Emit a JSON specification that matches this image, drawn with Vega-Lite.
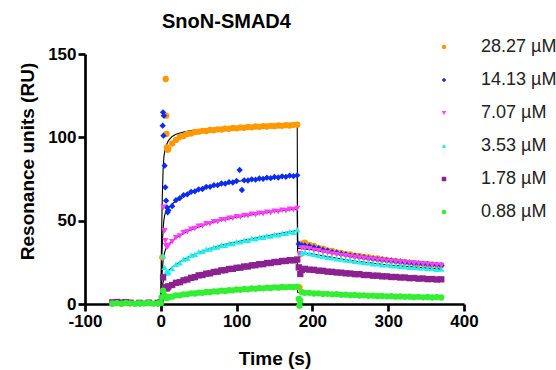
{
"$schema":"https://vega.github.io/schema/vega-lite/v6.json",
"width":379,"height":250,
"autosize":{"type":"none"},
"padding":{"left":85,"top":54,"right":92,"bottom":66},
"background":"white",
"config":{"view":{"stroke":null},"font":"Liberation Sans",
"axis":{"domainColor":"black","domainWidth":2.7,"tickColor":"black","tickWidth":2.7,"tickSize":7,"labelFont":"Liberation Sans","labelFontSize":17,"labelFontWeight":"bold","labelColor":"black","titleFont":"Liberation Sans","titleFontSize":19,"titleFontWeight":"bold","titleColor":"black","grid":false,"labelPadding":2,"labelFlush":false}},
"title":{"text":"SnoN-SMAD4","anchor":"start","frame":"group","dx":77,"dy":24,"fontSize":20,"fontWeight":"bold","font":"Liberation Sans","color":"black","offset":14,"baseline":"alphabetic"},
"datasets":{
"fit":[
{"conc":"28.27 µM","time":0,"ru":0},{"conc":"28.27 µM","time":1,"ru":40},{"conc":"28.27 µM","time":2,"ru":65},{"conc":"28.27 µM","time":3,"ru":80},{"conc":"28.27 µM","time":4,"ru":88},{"conc":"28.27 µM","time":6,"ru":94},{"conc":"28.27 µM","time":10,"ru":98},{"conc":"28.27 µM","time":15,"ru":100.5},{"conc":"28.27 µM","time":20,"ru":101.8},{"conc":"28.27 µM","time":30,"ru":103.2},{"conc":"28.27 µM","time":40,"ru":104},{"conc":"28.27 µM","time":60,"ru":104.8},{"conc":"28.27 µM","time":80,"ru":105.4},{"conc":"28.27 µM","time":100,"ru":105.9},{"conc":"28.27 µM","time":120,"ru":106.3},{"conc":"28.27 µM","time":150,"ru":106.8},{"conc":"28.27 µM","time":180,"ru":107.3},{"conc":"28.27 µM","time":180.5,"ru":35.5},{"conc":"28.27 µM","time":190,"ru":35.2},{"conc":"28.27 µM","time":200,"ru":34.2},{"conc":"28.27 µM","time":220,"ru":32.1},{"conc":"28.27 µM","time":250,"ru":29.5},{"conc":"28.27 µM","time":280,"ru":27.5},{"conc":"28.27 µM","time":300,"ru":26.2},{"conc":"28.27 µM","time":340,"ru":24.2},{"conc":"28.27 µM","time":370,"ru":23.1},
{"conc":"14.13 µM","time":0,"ru":0},{"conc":"14.13 µM","time":1,"ru":22},{"conc":"14.13 µM","time":2,"ru":36},{"conc":"14.13 µM","time":3,"ru":45},{"conc":"14.13 µM","time":4,"ru":50},{"conc":"14.13 µM","time":5,"ru":53},{"conc":"14.13 µM","time":7,"ru":56},{"conc":"14.13 µM","time":10,"ru":57.5},{"conc":"14.13 µM","time":15,"ru":60},{"conc":"14.13 µM","time":20,"ru":62},{"conc":"14.13 µM","time":30,"ru":65},{"conc":"14.13 µM","time":40,"ru":67},{"conc":"14.13 µM","time":60,"ru":70},{"conc":"14.13 µM","time":80,"ru":72},{"conc":"14.13 µM","time":100,"ru":73.5},{"conc":"14.13 µM","time":120,"ru":74.7},{"conc":"14.13 µM","time":150,"ru":76},{"conc":"14.13 µM","time":180,"ru":77},{"conc":"14.13 µM","time":180.5,"ru":35},{"conc":"14.13 µM","time":200,"ru":34},{"conc":"14.13 µM","time":250,"ru":29},{"conc":"14.13 µM","time":300,"ru":26},{"conc":"14.13 µM","time":370,"ru":23.2},
{"conc":"7.07 µM","time":0,"ru":0},{"conc":"7.07 µM","time":1,"ru":12},{"conc":"7.07 µM","time":2,"ru":20},{"conc":"7.07 µM","time":3,"ru":26},{"conc":"7.07 µM","time":5,"ru":31},{"conc":"7.07 µM","time":7,"ru":33.5},{"conc":"7.07 µM","time":10,"ru":35.5},{"conc":"7.07 µM","time":15,"ru":37.8},{"conc":"7.07 µM","time":20,"ru":39.6},{"conc":"7.07 µM","time":30,"ru":42.5},{"conc":"7.07 µM","time":40,"ru":44.6},{"conc":"7.07 µM","time":60,"ru":47.8},{"conc":"7.07 µM","time":80,"ru":50.2},{"conc":"7.07 µM","time":100,"ru":52},{"conc":"7.07 µM","time":120,"ru":53.6},{"conc":"7.07 µM","time":150,"ru":55.5},{"conc":"7.07 µM","time":180,"ru":57},{"conc":"7.07 µM","time":180.5,"ru":33.5},{"conc":"7.07 µM","time":200,"ru":32.6},{"conc":"7.07 µM","time":250,"ru":28.4},{"conc":"7.07 µM","time":300,"ru":25.7},{"conc":"7.07 µM","time":370,"ru":23.2},
{"conc":"3.53 µM","time":0,"ru":0},{"conc":"3.53 µM","time":1,"ru":6},{"conc":"3.53 µM","time":2,"ru":10},{"conc":"3.53 µM","time":3,"ru":13},{"conc":"3.53 µM","time":5,"ru":16.5},{"conc":"3.53 µM","time":7,"ru":18.5},{"conc":"3.53 µM","time":10,"ru":20},{"conc":"3.53 µM","time":15,"ru":22},{"conc":"3.53 µM","time":20,"ru":23.8},{"conc":"3.53 µM","time":30,"ru":26.7},{"conc":"3.53 µM","time":40,"ru":29},{"conc":"3.53 µM","time":60,"ru":32.6},{"conc":"3.53 µM","time":80,"ru":35.2},{"conc":"3.53 µM","time":100,"ru":37.3},{"conc":"3.53 µM","time":120,"ru":39.2},{"conc":"3.53 µM","time":150,"ru":41.7},{"conc":"3.53 µM","time":180,"ru":44.2},{"conc":"3.53 µM","time":180.5,"ru":31},{"conc":"3.53 µM","time":200,"ru":30},{"conc":"3.53 µM","time":250,"ru":26.1},{"conc":"3.53 µM","time":300,"ru":23.4},{"conc":"3.53 µM","time":370,"ru":20.9},
{"conc":"1.78 µM","time":0,"ru":0},{"conc":"1.78 µM","time":2,"ru":5},{"conc":"1.78 µM","time":4,"ru":7.5},{"conc":"1.78 µM","time":7,"ru":9.5},{"conc":"1.78 µM","time":10,"ru":10.5},{"conc":"1.78 µM","time":20,"ru":12.6},{"conc":"1.78 µM","time":40,"ru":15.6},{"conc":"1.78 µM","time":60,"ru":18},{"conc":"1.78 µM","time":80,"ru":20},{"conc":"1.78 µM","time":100,"ru":21.6},{"conc":"1.78 µM","time":120,"ru":23},{"conc":"1.78 µM","time":150,"ru":24.9},{"conc":"1.78 µM","time":180,"ru":26.6},{"conc":"1.78 µM","time":180.5,"ru":21},{"conc":"1.78 µM","time":200,"ru":20.4},{"conc":"1.78 µM","time":250,"ru":18.2},{"conc":"1.78 µM","time":300,"ru":16.5},{"conc":"1.78 µM","time":370,"ru":14.7},
{"conc":"0.88 µM","time":0,"ru":0},{"conc":"0.88 µM","time":2,"ru":2},{"conc":"0.88 µM","time":5,"ru":3.3},{"conc":"0.88 µM","time":10,"ru":4.1},{"conc":"0.88 µM","time":20,"ru":5},{"conc":"0.88 µM","time":40,"ru":6.2},{"conc":"0.88 µM","time":60,"ru":7},{"conc":"0.88 µM","time":80,"ru":7.8},{"conc":"0.88 µM","time":100,"ru":8.5},{"conc":"0.88 µM","time":120,"ru":9.1},{"conc":"0.88 µM","time":150,"ru":9.8},{"conc":"0.88 µM","time":180,"ru":10.2},{"conc":"0.88 µM","time":180.5,"ru":7},{"conc":"0.88 µM","time":200,"ru":6.4},{"conc":"0.88 µM","time":250,"ru":5.4},{"conc":"0.88 µM","time":300,"ru":4.6},{"conc":"0.88 µM","time":370,"ru":3.9}
],
"pts":[
{"conc":"28.27 µM","time":-64,"ru":0.3},{"conc":"28.27 µM","time":-52,"ru":0.2},{"conc":"28.27 µM","time":-40,"ru":0.4},{"conc":"28.27 µM","time":-28,"ru":0.5},{"conc":"28.27 µM","time":-16,"ru":0.6},{"conc":"28.27 µM","time":-4,"ru":0.4},
{"conc":"28.27 µM","time":0,"ru":0.8},{"conc":"28.27 µM","time":2,"ru":28},{"conc":"28.27 µM","time":6.5,"ru":135},{"conc":"28.27 µM","time":7,"ru":113},{"conc":"28.27 µM","time":7.5,"ru":102},{"conc":"28.27 µM","time":8,"ru":94},{"conc":"28.27 µM","time":9,"ru":92.5},{"conc":"28.27 µM","time":10,"ru":93},{"conc":"28.27 µM","time":15,"ru":96.3},{"conc":"28.27 µM","time":20,"ru":98.4},{"conc":"28.27 µM","time":25,"ru":100.2},{"conc":"28.27 µM","time":30,"ru":100.8},{"conc":"28.27 µM","time":35,"ru":102},{"conc":"28.27 µM","time":40,"ru":102.3},{"conc":"28.27 µM","time":45,"ru":103.2},{"conc":"28.27 µM","time":50,"ru":103.4},{"conc":"28.27 µM","time":55,"ru":103.9},{"conc":"28.27 µM","time":60,"ru":103.8},{"conc":"28.27 µM","time":65,"ru":104.4},{"conc":"28.27 µM","time":70,"ru":104.3},{"conc":"28.27 µM","time":75,"ru":104.8},{"conc":"28.27 µM","time":80,"ru":104.7},{"conc":"28.27 µM","time":85,"ru":105.2},{"conc":"28.27 µM","time":90,"ru":105.1},{"conc":"28.27 µM","time":95,"ru":105.6},{"conc":"28.27 µM","time":100,"ru":105.4},{"conc":"28.27 µM","time":105,"ru":105.9},{"conc":"28.27 µM","time":110,"ru":105.7},{"conc":"28.27 µM","time":115,"ru":106.2},{"conc":"28.27 µM","time":120,"ru":106},{"conc":"28.27 µM","time":125,"ru":106.5},{"conc":"28.27 µM","time":130,"ru":106.3},{"conc":"28.27 µM","time":135,"ru":106.7},{"conc":"28.27 µM","time":140,"ru":106.5},{"conc":"28.27 µM","time":145,"ru":106.9},{"conc":"28.27 µM","time":150,"ru":106.7},{"conc":"28.27 µM","time":155,"ru":107.1},{"conc":"28.27 µM","time":160,"ru":106.9},{"conc":"28.27 µM","time":165,"ru":107.3},{"conc":"28.27 µM","time":170,"ru":107.1},{"conc":"28.27 µM","time":175,"ru":107.5},{"conc":"28.27 µM","time":180,"ru":107.6},
{"conc":"28.27 µM","time":183,"ru":10},{"conc":"28.27 µM","time":184.5,"ru":30},
{"conc":"28.27 µM","time":186,"ru":36.2},{"conc":"28.27 µM","time":190,"ru":36.8},{"conc":"28.27 µM","time":196,"ru":35.4},{"conc":"28.27 µM","time":202,"ru":34.8},{"conc":"28.27 µM","time":208,"ru":33.6},{"conc":"28.27 µM","time":214,"ru":33.2},{"conc":"28.27 µM","time":220,"ru":32.1},{"conc":"28.27 µM","time":226,"ru":31.8},{"conc":"28.27 µM","time":232,"ru":30.9},{"conc":"28.27 µM","time":238,"ru":30.7},{"conc":"28.27 µM","time":244,"ru":29.9},{"conc":"28.27 µM","time":250,"ru":29.7},{"conc":"28.27 µM","time":256,"ru":29},{"conc":"28.27 µM","time":262,"ru":28.9},{"conc":"28.27 µM","time":268,"ru":28.2},{"conc":"28.27 µM","time":274,"ru":28.1},{"conc":"28.27 µM","time":280,"ru":27.4},{"conc":"28.27 µM","time":286,"ru":27.3},{"conc":"28.27 µM","time":292,"ru":26.6},{"conc":"28.27 µM","time":298,"ru":26.5},{"conc":"28.27 µM","time":304,"ru":25.9},{"conc":"28.27 µM","time":310,"ru":25.9},{"conc":"28.27 µM","time":316,"ru":25.3},{"conc":"28.27 µM","time":322,"ru":25.3},{"conc":"28.27 µM","time":328,"ru":24.7},{"conc":"28.27 µM","time":334,"ru":24.7},{"conc":"28.27 µM","time":340,"ru":24.1},{"conc":"28.27 µM","time":346,"ru":24.2},{"conc":"28.27 µM","time":352,"ru":23.6},{"conc":"28.27 µM","time":358,"ru":23.7},{"conc":"28.27 µM","time":364,"ru":23.2},{"conc":"28.27 µM","time":370,"ru":23.2},
{"conc":"14.13 µM","time":-64,"ru":0.4},{"conc":"14.13 µM","time":-52,"ru":0.3},{"conc":"14.13 µM","time":-40,"ru":0.5},{"conc":"14.13 µM","time":-28,"ru":0.3},{"conc":"14.13 µM","time":-16,"ru":0.5},{"conc":"14.13 µM","time":-4,"ru":0.3},
{"conc":"14.13 µM","time":0,"ru":0.5},{"conc":"14.13 µM","time":2.5,"ru":107},{"conc":"14.13 µM","time":3,"ru":115},{"conc":"14.13 µM","time":3.5,"ru":101},{"conc":"14.13 µM","time":4,"ru":113},{"conc":"14.13 µM","time":5,"ru":83},{"conc":"14.13 µM","time":6,"ru":70},{"conc":"14.13 µM","time":7,"ru":62},{"conc":"14.13 µM","time":8,"ru":58},{"conc":"14.13 µM","time":9,"ru":55},{"conc":"14.13 µM","time":10,"ru":56.2},{"conc":"14.13 µM","time":15,"ru":58.7},{"conc":"14.13 µM","time":20,"ru":62.3},{"conc":"14.13 µM","time":25,"ru":63.5},{"conc":"14.13 µM","time":30,"ru":65.3},{"conc":"14.13 µM","time":35,"ru":65.8},{"conc":"14.13 µM","time":40,"ru":67.3},{"conc":"14.13 µM","time":45,"ru":67.6},{"conc":"14.13 µM","time":50,"ru":68.8},{"conc":"14.13 µM","time":55,"ru":69},{"conc":"14.13 µM","time":60,"ru":70.3},{"conc":"14.13 µM","time":65,"ru":70.3},{"conc":"14.13 µM","time":70,"ru":71.3},{"conc":"14.13 µM","time":75,"ru":71.3},{"conc":"14.13 µM","time":80,"ru":72.3},{"conc":"14.13 µM","time":85,"ru":72.2},{"conc":"14.13 µM","time":90,"ru":73.1},{"conc":"14.13 µM","time":95,"ru":72.9},{"conc":"14.13 µM","time":100,"ru":73.8},{"conc":"14.13 µM","time":104,"ru":80.4},{"conc":"14.13 µM","time":107,"ru":68.4},{"conc":"14.13 µM","time":110,"ru":74.2},{"conc":"14.13 µM","time":115,"ru":74.1},{"conc":"14.13 µM","time":120,"ru":74.8},{"conc":"14.13 µM","time":125,"ru":74.6},{"conc":"14.13 µM","time":130,"ru":75.3},{"conc":"14.13 µM","time":135,"ru":75.1},{"conc":"14.13 µM","time":140,"ru":75.8},{"conc":"14.13 µM","time":145,"ru":75.5},{"conc":"14.13 µM","time":150,"ru":76.2},{"conc":"14.13 µM","time":155,"ru":75.9},{"conc":"14.13 µM","time":160,"ru":76.6},{"conc":"14.13 µM","time":165,"ru":76.3},{"conc":"14.13 µM","time":170,"ru":77},{"conc":"14.13 µM","time":175,"ru":76.7},{"conc":"14.13 µM","time":180,"ru":77.2},
{"conc":"14.13 µM","time":182,"ru":36},
{"conc":"14.13 µM","time":186,"ru":35.2},{"conc":"14.13 µM","time":190,"ru":35.1},{"conc":"14.13 µM","time":196,"ru":34.7},{"conc":"14.13 µM","time":202,"ru":33.9},{"conc":"14.13 µM","time":208,"ru":33.4},{"conc":"14.13 µM","time":214,"ru":32.4},{"conc":"14.13 µM","time":220,"ru":32},{"conc":"14.13 µM","time":226,"ru":31.1},{"conc":"14.13 µM","time":232,"ru":30.8},{"conc":"14.13 µM","time":238,"ru":30},{"conc":"14.13 µM","time":244,"ru":29.8},{"conc":"14.13 µM","time":250,"ru":29},{"conc":"14.13 µM","time":256,"ru":28.9},{"conc":"14.13 µM","time":262,"ru":28.2},{"conc":"14.13 µM","time":268,"ru":28.1},{"conc":"14.13 µM","time":274,"ru":27.4},{"conc":"14.13 µM","time":280,"ru":27.3},{"conc":"14.13 µM","time":286,"ru":26.7},{"conc":"14.13 µM","time":292,"ru":26.7},{"conc":"14.13 µM","time":298,"ru":26.1},{"conc":"14.13 µM","time":304,"ru":26.1},{"conc":"14.13 µM","time":310,"ru":25.5},{"conc":"14.13 µM","time":316,"ru":25.5},{"conc":"14.13 µM","time":322,"ru":24.9},{"conc":"14.13 µM","time":328,"ru":24.9},{"conc":"14.13 µM","time":334,"ru":24.3},{"conc":"14.13 µM","time":340,"ru":24.4},{"conc":"14.13 µM","time":346,"ru":23.9},{"conc":"14.13 µM","time":352,"ru":24},{"conc":"14.13 µM","time":358,"ru":23.5},{"conc":"14.13 µM","time":364,"ru":23.6},{"conc":"14.13 µM","time":370,"ru":23.1},
{"conc":"7.07 µM","time":-64,"ru":0.5},{"conc":"7.07 µM","time":-52,"ru":0.4},{"conc":"7.07 µM","time":-40,"ru":0.3},{"conc":"7.07 µM","time":-28,"ru":0.6},{"conc":"7.07 µM","time":-16,"ru":0.4},{"conc":"7.07 µM","time":-4,"ru":0.5},
{"conc":"7.07 µM","time":0,"ru":0.6},{"conc":"7.07 µM","time":3.5,"ru":58},{"conc":"7.07 µM","time":5,"ru":44},{"conc":"7.07 µM","time":6,"ru":38},{"conc":"7.07 µM","time":7,"ru":35},{"conc":"7.07 µM","time":8,"ru":34},{"conc":"7.07 µM","time":9,"ru":34.4},{"conc":"7.07 µM","time":10,"ru":35.2},{"conc":"7.07 µM","time":15,"ru":37.3},{"conc":"7.07 µM","time":20,"ru":39.8},{"conc":"7.07 µM","time":25,"ru":40.8},{"conc":"7.07 µM","time":30,"ru":42.8},{"conc":"7.07 µM","time":35,"ru":43.3},{"conc":"7.07 µM","time":40,"ru":44.8},{"conc":"7.07 µM","time":45,"ru":45.3},{"conc":"7.07 µM","time":50,"ru":46.6},{"conc":"7.07 µM","time":55,"ru":46.8},{"conc":"7.07 µM","time":60,"ru":48.1},{"conc":"7.07 µM","time":65,"ru":48.2},{"conc":"7.07 µM","time":70,"ru":49.3},{"conc":"7.07 µM","time":75,"ru":49.4},{"conc":"7.07 µM","time":80,"ru":50.5},{"conc":"7.07 µM","time":85,"ru":50.5},{"conc":"7.07 µM","time":90,"ru":51.5},{"conc":"7.07 µM","time":95,"ru":51.4},{"conc":"7.07 µM","time":100,"ru":52.3},{"conc":"7.07 µM","time":105,"ru":52.2},{"conc":"7.07 µM","time":110,"ru":53.1},{"conc":"7.07 µM","time":115,"ru":53},{"conc":"7.07 µM","time":120,"ru":53.8},{"conc":"7.07 µM","time":125,"ru":53.6},{"conc":"7.07 µM","time":130,"ru":54.4},{"conc":"7.07 µM","time":135,"ru":54.2},{"conc":"7.07 µM","time":140,"ru":55},{"conc":"7.07 µM","time":145,"ru":54.8},{"conc":"7.07 µM","time":150,"ru":55.6},{"conc":"7.07 µM","time":155,"ru":55.4},{"conc":"7.07 µM","time":160,"ru":56.2},{"conc":"7.07 µM","time":165,"ru":56},{"conc":"7.07 µM","time":170,"ru":56.8},{"conc":"7.07 µM","time":175,"ru":56.6},{"conc":"7.07 µM","time":180,"ru":57.3},
{"conc":"7.07 µM","time":183,"ru":30},
{"conc":"7.07 µM","time":186,"ru":33.6},{"conc":"7.07 µM","time":190,"ru":33.4},{"conc":"7.07 µM","time":196,"ru":33.1},{"conc":"7.07 µM","time":202,"ru":32.3},{"conc":"7.07 µM","time":208,"ru":31.9},{"conc":"7.07 µM","time":214,"ru":31.1},{"conc":"7.07 µM","time":220,"ru":30.7},{"conc":"7.07 µM","time":226,"ru":30},{"conc":"7.07 µM","time":232,"ru":29.7},{"conc":"7.07 µM","time":238,"ru":29.1},{"conc":"7.07 µM","time":244,"ru":28.9},{"conc":"7.07 µM","time":250,"ru":28.3},{"conc":"7.07 µM","time":256,"ru":28.1},{"conc":"7.07 µM","time":262,"ru":27.6},{"conc":"7.07 µM","time":268,"ru":27.5},{"conc":"7.07 µM","time":274,"ru":26.9},{"conc":"7.07 µM","time":280,"ru":26.8},{"conc":"7.07 µM","time":286,"ru":26.3},{"conc":"7.07 µM","time":292,"ru":26.2},{"conc":"7.07 µM","time":298,"ru":25.7},{"conc":"7.07 µM","time":304,"ru":25.7},{"conc":"7.07 µM","time":310,"ru":25.2},{"conc":"7.07 µM","time":316,"ru":25.2},{"conc":"7.07 µM","time":322,"ru":24.7},{"conc":"7.07 µM","time":328,"ru":24.7},{"conc":"7.07 µM","time":334,"ru":24.3},{"conc":"7.07 µM","time":340,"ru":24.3},{"conc":"7.07 µM","time":346,"ru":23.8},{"conc":"7.07 µM","time":352,"ru":23.8},{"conc":"7.07 µM","time":358,"ru":23.4},{"conc":"7.07 µM","time":364,"ru":23.4},{"conc":"7.07 µM","time":370,"ru":23.1},
{"conc":"3.53 µM","time":-64,"ru":0.3},{"conc":"3.53 µM","time":-52,"ru":0.5},{"conc":"3.53 µM","time":-40,"ru":0.4},{"conc":"3.53 µM","time":-28,"ru":0.3},{"conc":"3.53 µM","time":-16,"ru":0.5},{"conc":"3.53 µM","time":-4,"ru":0.4},
{"conc":"3.53 µM","time":0,"ru":0.4},{"conc":"3.53 µM","time":3,"ru":29},{"conc":"3.53 µM","time":5,"ru":22},{"conc":"3.53 µM","time":7,"ru":19},{"conc":"3.53 µM","time":8,"ru":18.6},{"conc":"3.53 µM","time":9,"ru":18.9},{"conc":"3.53 µM","time":10,"ru":19.4},{"conc":"3.53 µM","time":15,"ru":21.3},{"conc":"3.53 µM","time":20,"ru":23.8},{"conc":"3.53 µM","time":25,"ru":24.8},{"conc":"3.53 µM","time":30,"ru":26.8},{"conc":"3.53 µM","time":35,"ru":27.5},{"conc":"3.53 µM","time":40,"ru":29.3},{"conc":"3.53 µM","time":45,"ru":29.8},{"conc":"3.53 µM","time":50,"ru":31.3},{"conc":"3.53 µM","time":55,"ru":31.6},{"conc":"3.53 µM","time":60,"ru":32.8},{"conc":"3.53 µM","time":65,"ru":33},{"conc":"3.53 µM","time":70,"ru":34.1},{"conc":"3.53 µM","time":75,"ru":34.2},{"conc":"3.53 µM","time":80,"ru":35.3},{"conc":"3.53 µM","time":85,"ru":35.3},{"conc":"3.53 µM","time":90,"ru":36.3},{"conc":"3.53 µM","time":95,"ru":36.3},{"conc":"3.53 µM","time":100,"ru":37.3},{"conc":"3.53 µM","time":105,"ru":37.3},{"conc":"3.53 µM","time":110,"ru":38.3},{"conc":"3.53 µM","time":115,"ru":38.3},{"conc":"3.53 µM","time":120,"ru":39.3},{"conc":"3.53 µM","time":125,"ru":39.2},{"conc":"3.53 µM","time":130,"ru":40.1},{"conc":"3.53 µM","time":135,"ru":40},{"conc":"3.53 µM","time":140,"ru":40.9},{"conc":"3.53 µM","time":145,"ru":40.8},{"conc":"3.53 µM","time":150,"ru":41.7},{"conc":"3.53 µM","time":155,"ru":41.6},{"conc":"3.53 µM","time":160,"ru":42.5},{"conc":"3.53 µM","time":165,"ru":42.4},{"conc":"3.53 µM","time":170,"ru":43.3},{"conc":"3.53 µM","time":175,"ru":43.1},{"conc":"3.53 µM","time":180,"ru":44.5},
{"conc":"3.53 µM","time":182,"ru":22},
{"conc":"3.53 µM","time":186,"ru":30.4},{"conc":"3.53 µM","time":190,"ru":31.1},{"conc":"3.53 µM","time":196,"ru":30.3},{"conc":"3.53 µM","time":202,"ru":29.9},{"conc":"3.53 µM","time":208,"ru":29.1},{"conc":"3.53 µM","time":214,"ru":28.8},{"conc":"3.53 µM","time":220,"ru":28.1},{"conc":"3.53 µM","time":226,"ru":27.8},{"conc":"3.53 µM","time":232,"ru":27.2},{"conc":"3.53 µM","time":238,"ru":27},{"conc":"3.53 µM","time":244,"ru":26.4},{"conc":"3.53 µM","time":250,"ru":26.2},{"conc":"3.53 µM","time":256,"ru":25.6},{"conc":"3.53 µM","time":262,"ru":25.4},{"conc":"3.53 µM","time":268,"ru":24.9},{"conc":"3.53 µM","time":274,"ru":24.7},{"conc":"3.53 µM","time":280,"ru":24.2},{"conc":"3.53 µM","time":286,"ru":24.1},{"conc":"3.53 µM","time":292,"ru":23.6},{"conc":"3.53 µM","time":298,"ru":23.5},{"conc":"3.53 µM","time":304,"ru":23.1},{"conc":"3.53 µM","time":310,"ru":23},{"conc":"3.53 µM","time":316,"ru":22.6},{"conc":"3.53 µM","time":322,"ru":22.5},{"conc":"3.53 µM","time":328,"ru":22.1},{"conc":"3.53 µM","time":334,"ru":22.1},{"conc":"3.53 µM","time":340,"ru":21.7},{"conc":"3.53 µM","time":346,"ru":21.7},{"conc":"3.53 µM","time":352,"ru":21.3},{"conc":"3.53 µM","time":358,"ru":21.3},{"conc":"3.53 µM","time":364,"ru":20.9},{"conc":"3.53 µM","time":370,"ru":21},
{"conc":"1.78 µM","time":-64,"ru":1.0},{"conc":"1.78 µM","time":-58,"ru":1.2},{"conc":"1.78 µM","time":-52,"ru":0.9},{"conc":"1.78 µM","time":-46,"ru":1.1},{"conc":"1.78 µM","time":-40,"ru":0.8},{"conc":"1.78 µM","time":-28,"ru":0.7},{"conc":"1.78 µM","time":-16,"ru":0.8},{"conc":"1.78 µM","time":-4,"ru":0.7},
{"conc":"1.78 µM","time":0,"ru":1},{"conc":"1.78 µM","time":3,"ru":16},{"conc":"1.78 µM","time":5,"ru":10},{"conc":"1.78 µM","time":7,"ru":9.5},{"conc":"1.78 µM","time":8,"ru":9.4},{"conc":"1.78 µM","time":9,"ru":10},{"conc":"1.78 µM","time":10,"ru":10.6},{"conc":"1.78 µM","time":15,"ru":11.4},{"conc":"1.78 µM","time":20,"ru":12.7},{"conc":"1.78 µM","time":25,"ru":13.1},{"conc":"1.78 µM","time":30,"ru":14.2},{"conc":"1.78 µM","time":35,"ru":14.7},{"conc":"1.78 µM","time":40,"ru":15.7},{"conc":"1.78 µM","time":45,"ru":16.1},{"conc":"1.78 µM","time":50,"ru":17.2},{"conc":"1.78 µM","time":55,"ru":17.4},{"conc":"1.78 µM","time":60,"ru":18.2},{"conc":"1.78 µM","time":65,"ru":18.4},{"conc":"1.78 µM","time":70,"ru":19.2},{"conc":"1.78 µM","time":75,"ru":19.4},{"conc":"1.78 µM","time":80,"ru":20.2},{"conc":"1.78 µM","time":85,"ru":20.3},{"conc":"1.78 µM","time":90,"ru":21},{"conc":"1.78 µM","time":95,"ru":21.1},{"conc":"1.78 µM","time":100,"ru":21.7},{"conc":"1.78 µM","time":105,"ru":21.8},{"conc":"1.78 µM","time":110,"ru":22.5},{"conc":"1.78 µM","time":115,"ru":22.5},{"conc":"1.78 µM","time":120,"ru":23.2},{"conc":"1.78 µM","time":125,"ru":23.3},{"conc":"1.78 µM","time":130,"ru":23.9},{"conc":"1.78 µM","time":135,"ru":23.9},{"conc":"1.78 µM","time":140,"ru":24.6},{"conc":"1.78 µM","time":145,"ru":24.6},{"conc":"1.78 µM","time":150,"ru":25.2},{"conc":"1.78 µM","time":155,"ru":25.2},{"conc":"1.78 µM","time":160,"ru":25.8},{"conc":"1.78 µM","time":165,"ru":25.8},{"conc":"1.78 µM","time":170,"ru":26.3},{"conc":"1.78 µM","time":175,"ru":26.2},{"conc":"1.78 µM","time":180,"ru":26.7},
{"conc":"1.78 µM","time":182,"ru":22},{"conc":"1.78 µM","time":184,"ru":18},
{"conc":"1.78 µM","time":186,"ru":20.4},{"conc":"1.78 µM","time":190,"ru":21.1},{"conc":"1.78 µM","time":196,"ru":20.6},{"conc":"1.78 µM","time":202,"ru":20.5},{"conc":"1.78 µM","time":208,"ru":20},{"conc":"1.78 µM","time":214,"ru":19.9},{"conc":"1.78 µM","time":220,"ru":19.4},{"conc":"1.78 µM","time":226,"ru":19.3},{"conc":"1.78 µM","time":232,"ru":18.9},{"conc":"1.78 µM","time":238,"ru":18.8},{"conc":"1.78 µM","time":244,"ru":18.4},{"conc":"1.78 µM","time":250,"ru":18.3},{"conc":"1.78 µM","time":256,"ru":17.9},{"conc":"1.78 µM","time":262,"ru":17.9},{"conc":"1.78 µM","time":268,"ru":17.4},{"conc":"1.78 µM","time":274,"ru":17.4},{"conc":"1.78 µM","time":280,"ru":17},{"conc":"1.78 µM","time":286,"ru":17},{"conc":"1.78 µM","time":292,"ru":16.6},{"conc":"1.78 µM","time":298,"ru":16.6},{"conc":"1.78 µM","time":304,"ru":16.2},{"conc":"1.78 µM","time":310,"ru":16.2},{"conc":"1.78 µM","time":316,"ru":15.9},{"conc":"1.78 µM","time":322,"ru":15.9},{"conc":"1.78 µM","time":328,"ru":15.5},{"conc":"1.78 µM","time":334,"ru":15.6},{"conc":"1.78 µM","time":340,"ru":15.2},{"conc":"1.78 µM","time":346,"ru":15.3},{"conc":"1.78 µM","time":352,"ru":14.9},{"conc":"1.78 µM","time":358,"ru":15},{"conc":"1.78 µM","time":364,"ru":14.7},{"conc":"1.78 µM","time":370,"ru":14.8},
{"conc":"0.88 µM","time":-64,"ru":0.3},{"conc":"0.88 µM","time":-58,"ru":0.5},{"conc":"0.88 µM","time":-52,"ru":0.2},{"conc":"0.88 µM","time":-46,"ru":0.6},{"conc":"0.88 µM","time":-40,"ru":0.4},{"conc":"0.88 µM","time":-34,"ru":0.1},{"conc":"0.88 µM","time":-28,"ru":0.5},{"conc":"0.88 µM","time":-22,"ru":0.3},{"conc":"0.88 µM","time":-16,"ru":0.6},{"conc":"0.88 µM","time":-10,"ru":0.2},{"conc":"0.88 µM","time":-4,"ru":0.4},
{"conc":"0.88 µM","time":0,"ru":0.6},{"conc":"0.88 µM","time":1,"ru":4},{"conc":"0.88 µM","time":3,"ru":8},{"conc":"0.88 µM","time":5,"ru":5},{"conc":"0.88 µM","time":8,"ru":3.5},{"conc":"0.88 µM","time":9,"ru":3.9},{"conc":"0.88 µM","time":10,"ru":4.2},{"conc":"0.88 µM","time":15,"ru":4.4},{"conc":"0.88 µM","time":20,"ru":5.2},{"conc":"0.88 µM","time":25,"ru":5.2},{"conc":"0.88 µM","time":30,"ru":5.8},{"conc":"0.88 µM","time":35,"ru":5.8},{"conc":"0.88 µM","time":40,"ru":6.4},{"conc":"0.88 µM","time":45,"ru":6.3},{"conc":"0.88 µM","time":50,"ru":6.8},{"conc":"0.88 µM","time":55,"ru":6.7},{"conc":"0.88 µM","time":60,"ru":7.2},{"conc":"0.88 µM","time":65,"ru":7.1},{"conc":"0.88 µM","time":70,"ru":7.6},{"conc":"0.88 µM","time":75,"ru":7.5},{"conc":"0.88 µM","time":80,"ru":8},{"conc":"0.88 µM","time":85,"ru":7.8},{"conc":"0.88 µM","time":90,"ru":8.3},{"conc":"0.88 µM","time":95,"ru":8.2},{"conc":"0.88 µM","time":100,"ru":8.7},{"conc":"0.88 µM","time":105,"ru":8.5},{"conc":"0.88 µM","time":110,"ru":9},{"conc":"0.88 µM","time":115,"ru":8.8},{"conc":"0.88 µM","time":120,"ru":9.3},{"conc":"0.88 µM","time":125,"ru":9.1},{"conc":"0.88 µM","time":130,"ru":9.5},{"conc":"0.88 µM","time":135,"ru":9.4},{"conc":"0.88 µM","time":140,"ru":9.8},{"conc":"0.88 µM","time":145,"ru":9.6},{"conc":"0.88 µM","time":150,"ru":10},{"conc":"0.88 µM","time":155,"ru":9.8},{"conc":"0.88 µM","time":160,"ru":10.2},{"conc":"0.88 µM","time":165,"ru":10},{"conc":"0.88 µM","time":170,"ru":10.3},{"conc":"0.88 µM","time":175,"ru":10.1},{"conc":"0.88 µM","time":180,"ru":10.4},
{"conc":"0.88 µM","time":182,"ru":3},{"conc":"0.88 µM","time":183,"ru":-1},{"conc":"0.88 µM","time":184,"ru":2},
{"conc":"0.88 µM","time":186,"ru":7.1},{"conc":"0.88 µM","time":190,"ru":6.7},{"conc":"0.88 µM","time":196,"ru":6.7},{"conc":"0.88 µM","time":202,"ru":6.3},{"conc":"0.88 µM","time":208,"ru":6.4},{"conc":"0.88 µM","time":214,"ru":6},{"conc":"0.88 µM","time":220,"ru":6.1},{"conc":"0.88 µM","time":226,"ru":5.8},{"conc":"0.88 µM","time":232,"ru":5.9},{"conc":"0.88 µM","time":238,"ru":5.5},{"conc":"0.88 µM","time":244,"ru":5.6},{"conc":"0.88 µM","time":250,"ru":5.3},{"conc":"0.88 µM","time":256,"ru":5.4},{"conc":"0.88 µM","time":262,"ru":5.1},{"conc":"0.88 µM","time":268,"ru":5.2},{"conc":"0.88 µM","time":274,"ru":4.9},{"conc":"0.88 µM","time":280,"ru":5},{"conc":"0.88 µM","time":286,"ru":4.7},{"conc":"0.88 µM","time":292,"ru":4.8},{"conc":"0.88 µM","time":298,"ru":4.6},{"conc":"0.88 µM","time":304,"ru":4.7},{"conc":"0.88 µM","time":310,"ru":4.4},{"conc":"0.88 µM","time":316,"ru":4.5},{"conc":"0.88 µM","time":322,"ru":4.3},{"conc":"0.88 µM","time":328,"ru":4.4},{"conc":"0.88 µM","time":334,"ru":4.1},{"conc":"0.88 µM","time":340,"ru":4.3},{"conc":"0.88 µM","time":346,"ru":4},{"conc":"0.88 µM","time":352,"ru":4.2},{"conc":"0.88 µM","time":358,"ru":3.9},{"conc":"0.88 µM","time":364,"ru":4.1},{"conc":"0.88 µM","time":370,"ru":3.9}
]},
"encoding":{
"x":{"field":"time","type":"quantitative","scale":{"domain":[-100,400],"nice":false,"zero":false},"axis":{"values":[-100,0,100,200,300,400],"labelExpr":"'' + datum.value","title":"Time (s)","titleY":60,"titleBaseline":"alphabetic"}},
"y":{"field":"ru","type":"quantitative","scale":{"domain":[0,150],"nice":false},"axis":{"values":[0,50,100,150],"title":"Resonance units (RU)","titleX":-58,"titleY":107,"titleAlign":"center","titleBaseline":"middle","titleAngle":270}}
},
"layer":[
{"data":{"name":"fit"},"mark":{"type":"line","color":"black","strokeWidth":1.1},"encoding":{"detail":{"field":"conc","type":"nominal"},"order":{"field":"time","type":"quantitative"}}},
{"data":{"name":"pts"},"mark":{"type":"point","filled":true,"size":40,"opacity":1,"strokeWidth":0},
"encoding":{
"color":{"field":"conc","type":"nominal","scale":{"domain":["28.27 µM","14.13 µM","7.07 µM","3.53 µM","1.78 µM","0.88 µM"],"range":["#FF9900","#0B2BF5","#FF40FF","#22EEEE","#8B2290","#33EE33"]},"legend":{"title":null,"orient":"none","legendX":350,"legendY":-16,"labelFontSize":18,"labelFont":"Liberation Sans","labelColor":"#222222","symbolSize":20,"labelOffset":28,"rowPadding":15,"padding":0,"symbolStrokeWidth":0}},
"shape":{"field":"conc","type":"nominal","scale":{"domain":["28.27 µM","14.13 µM","7.07 µM","3.53 µM","1.78 µM","0.88 µM"],"range":["circle","diamond","triangle-down","triangle-up","square","circle"]},"legend":{"title":null,"orient":"none","legendX":350,"legendY":-16,"labelFontSize":18,"labelFont":"Liberation Sans","labelColor":"#222222","symbolSize":20,"labelOffset":28,"rowPadding":15,"padding":0,"symbolStrokeWidth":0}}
}}
]
}
